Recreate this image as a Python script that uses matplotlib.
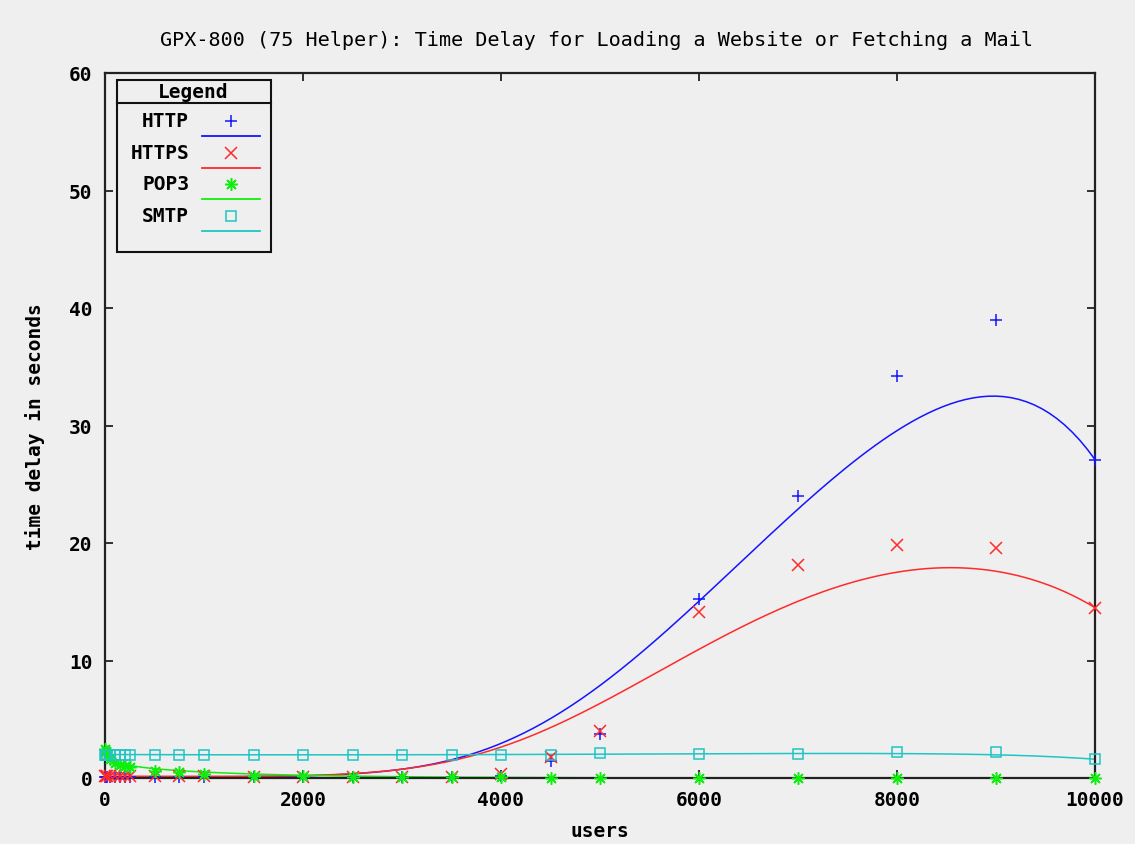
import math
import numpy as np
import matplotlib
matplotlib.use("Agg")
import matplotlib.pyplot as plt
from matplotlib.lines import Line2D
from matplotlib.patches import Rectangle

# ---------------- data ----------------
users = [0, 10, 25, 50, 100, 150, 200, 250, 500, 750, 1000, 1500, 2000, 2500,
         3000, 3500, 4000, 4500, 5000, 6000, 7000, 8000, 9000, 10000]
http = [0.1, 0.1, 0.1, 0.1, 0.1, 0.1, 0.1, 0.1, 0.1, 0.1, 0.1, 0.1, 0.1, 0.1,
        0.1, 0.1, 0.15, 1.45, 3.75, 15.2, 24.0, 34.2, 39.0, 27.1]
https = [0.15, 0.15, 0.15, 0.15, 0.15, 0.15, 0.15, 0.15, 0.15, 0.15, 0.15, 0.1, 0.1, 0.1,
         0.1, 0.1, 0.35, 1.8, 4.0, 14.1, 18.1, 19.8, 19.6, 14.5]
pop3 = [2.5, 2.3, 2.0, 1.6, 1.3, 1.1, 1.0, 0.9, 0.6, 0.5, 0.35, 0.2, 0.15, 0.1,
        0.1, 0.05, 0.05, 0.0, 0.0, 0.0, 0.0, 0.0, 0.0, 0.0]
smtp = [2.0, 2.0, 2.0, 2.0, 2.0, 2.0, 2.0, 2.0, 1.97, 1.97, 1.97, 1.97, 1.97, 1.97,
        1.97, 1.97, 1.97, 1.97, 2.1, 2.05, 2.05, 2.2, 2.2, 1.6]

series_names = ["HTTP", "HTTPS", "POP3", "SMTP"]
series_values = [http, https, pop3, smtp]
colors = ["#1414ff", "#ff2a2a", "#10ee10", "#20c4c4"]
markers = ["+", "x", (8, 2, 0), "s"]

x_ticks = [0, 2000, 4000, 6000, 8000, 10000]
y_ticks = [0, 10, 20, 30, 40, 50, 60]

title = "GPX-800 (75 Helper): Time Delay for Loading a Website or Fetching a Mail"
xlabel = "users"
ylabel = "time delay in seconds"


def bezier(xs, ys, n=300):
    """gnuplot-style 'smooth bezier' over all data points."""
    xs = np.asarray(xs, float)
    ys = np.asarray(ys, float)
    N = len(xs) - 1
    t = np.linspace(0, 1, n)
    bx = np.zeros_like(t)
    by = np.zeros_like(t)
    for k in range(N + 1):
        b = math.comb(N, k) * t ** k * (1 - t) ** (N - k)
        bx += b * xs[k]
        by += b * ys[k]
    return bx, by


BG = "#efefef"
fig = plt.figure(figsize=(11.35, 8.45), dpi=100, facecolor=BG)
ax = fig.add_axes([105 / 1135, 1 - 779 / 845, 990 / 1135, 705 / 845])
ax.set_facecolor(BG)

for name, vals, c, m in zip(series_names, series_values, colors, markers):
    bx, by = bezier(users, vals)
    ax.plot(bx, by, color=c, lw=1.1, zorder=2, clip_on=False)
    ms = 7 if m == "s" else 9
    ax.plot(users, vals, linestyle="none", marker=m, ms=ms, mew=1.1,
            mfc="none", mec=c, color=c, zorder=3, clip_on=False)

ax.set_xlim(0, 10000)
ax.set_ylim(0, 60)
ax.set_xticks(x_ticks)
ax.set_yticks(y_ticks)

tickfont = dict(family="DejaVu Sans Mono", weight="bold", size=14)
ax.set_xticklabels([str(v) for v in x_ticks], fontdict=tickfont)
ax.set_yticklabels([str(v) for v in y_ticks], fontdict=tickfont)
ax.tick_params(direction="in", length=6, width=1.3, top=True, right=True,
               pad=9, colors="#222222", labelcolor="black")

for sp in ax.spines.values():
    sp.set_linewidth(1.6)
    sp.set_color("#222222")

ax.set_xlabel(xlabel, fontdict=tickfont, labelpad=8)
ax.set_ylabel(ylabel, fontdict=tickfont, labelpad=17)
fig.text(597 / 1135, 1 - 41 / 845, title, ha="center", va="center",
         family="DejaVu Sans Mono", size=14.5, color="black")

# ---------------- legend (gnuplot style, drawn in pixel coordinates) ----------------
def ax_xy(px, py):
    return (px - 105) / 990, (779 - py) / 705

x0, y0 = ax_xy(117, 253)
x1, y1 = ax_xy(271, 81)
ax.add_patch(Rectangle((x0, y0), x1 - x0, y1 - y0, transform=ax.transAxes,
                       fill=True, facecolor=BG, edgecolor="#111111", lw=1.5, zorder=5))
hx0, hy = ax_xy(117, 104)
ax.add_line(Line2D([x0, x1], [hy, hy], transform=ax.transAxes, color="#111111", lw=1.5, zorder=6))
lx, ly = ax_xy(193, 93)
ax.text(lx, ly, "Legend", transform=ax.transAxes, ha="center", va="center",
        zorder=7, **tickfont)

row_y = [122, 154, 185, 217]
for name, c, m, ry in zip(series_names, colors, markers, row_y):
    tx, ty = ax_xy(189, ry)
    ax.text(tx, ty, name, transform=ax.transAxes, ha="right", va="center",
            zorder=7, **tickfont)
    mx, my = ax_xy(231, ry)
    ms = 7 if m == "s" else 9
    ax.add_line(Line2D([mx], [my], transform=ax.transAxes, marker=m, ms=ms, mew=1.1,
                       mfc="none", mec=c, linestyle="none", zorder=7))
    ax_l, ay_l = ax_xy(202, ry + 15)
    bx_l, _ = ax_xy(260, ry + 15)
    ax.add_line(Line2D([ax_l, bx_l], [ay_l, ay_l], transform=ax.transAxes,
                       color=c, lw=1.3, zorder=7))

fig.savefig("out.png", dpi=100, facecolor=BG)
